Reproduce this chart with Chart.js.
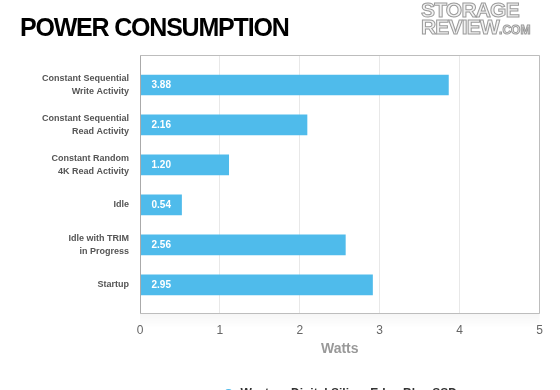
<!DOCTYPE html>
<html><head><meta charset="utf-8">
<script src="https://cdn.jsdelivr.net/npm/chart.js@4/dist/chart.umd.min.js"></script>
<style>
html,body{margin:0;padding:0;background:#fff;overflow:hidden;width:560px;height:390px;}
#wrap{position:relative;width:560px;height:410px;}
#title{position:absolute;left:20px;top:15px;font:bold 25px/25px "Liberation Sans",Arial,sans-serif;letter-spacing:-1.2px;color:#000;white-space:nowrap;}
.logo{position:absolute;left:421px;font-family:"Liberation Sans",Arial,sans-serif;font-weight:bold;color:#f2f2f2;-webkit-text-stroke:1px #9a9a9a;white-space:nowrap;font-size:21px;line-height:20px;letter-spacing:-0.8px;}
canvas{position:absolute;left:0;top:0;}
</style></head>
<body><div id="wrap">
<canvas id="c" width="560" height="410" style="width:560px;height:410px"></canvas>
<div id="title">POWER CONSUMPTION</div>
<div class="logo" style="top:0px">STORAGE</div>
<div class="logo" style="top:17px">REVIEW<span style="font-size:12px;letter-spacing:0">.COM</span></div>
</div>
<script>
const FAM = '"Liberation Sans", Arial, Helvetica, sans-serif';
const categories = [
  ["Constant Sequential", "Write Activity"],
  ["Constant Sequential", "Read Activity"],
  ["Constant Random", "4K Read Activity"],
  "Idle",
  ["Idle with TRIM", "in Progress"],
  "Startup"
];
const seriesName = "Western Digital SiliconEdge Blue SSD";
const barValues = [3.86, 2.09, 1.11, 0.52, 2.57, 2.91];
const valueLabels = ["3.88", "2.16", "1.20", "0.54", "2.56", "2.95"];
const xTicks = [0, 1, 2, 3, 4, 5];
const axisTitle = "Watts";

const boxPlugin = {
  id: 'box',
  beforeDraw(chart) {
    const {ctx, chartArea: a} = chart;
    ctx.save();
    const g = ctx.createLinearGradient(0, a.bottom, 0, a.bottom + 14);
    g.addColorStop(0, 'rgba(0,0,0,0.035)');
    g.addColorStop(1, 'rgba(0,0,0,0)');
    ctx.fillStyle = g;
    ctx.fillRect(a.left, a.bottom, a.right - a.left, 14);
    ctx.restore();
  },
  afterDatasetsDraw(chart) {
    const {ctx, chartArea: a} = chart;
    ctx.save();
    ctx.lineWidth = 1;
    ctx.strokeStyle = '#bdbdbd';
    const l = Math.round(a.left) + 0.5, r = Math.round(a.right) - 0.5, t = Math.round(a.top) + 0.5, b = Math.round(a.bottom) - 0.5;
    ctx.beginPath();
    ctx.moveTo(l, t); ctx.lineTo(r, t); ctx.lineTo(r, b); ctx.lineTo(l, b);
    ctx.stroke();
    ctx.strokeStyle = '#aaaaaa';
    ctx.beginPath(); ctx.moveTo(l, t); ctx.lineTo(l, b); ctx.stroke();
    ctx.restore();
  }
};
const valuePlugin = {
  id: 'vals',
  afterDatasetsDraw(chart) {
    const ctx = chart.ctx;
    const meta = chart.getDatasetMeta(0);
    ctx.save();
    ctx.fillStyle = '#ffffff';
    ctx.font = 'bold 10px ' + FAM;
    ctx.textBaseline = 'middle';
    ctx.textAlign = 'left';
    meta.data.forEach((bar, i) => {
      ctx.fillText(valueLabels[i], bar.base + 11, bar.y + 0.5);
    });
    ctx.restore();
  }
};

new Chart(document.getElementById('c'), {
  type: 'bar',
  data: {
    datasets: [{
      label: seriesName,
      data: barValues.map((v, i) => ({x: v, y: i})),
      backgroundColor: '#4FBBEB',
      borderWidth: 0,
      barThickness: 20
    }]
  },
  options: {
    indexAxis: 'y',
    responsive: false,
    animation: false,
    layout: {padding: {top: 55, right: 20.5, left: 0, bottom: 0}},
    scales: {
      x: {
        type: 'linear', min: xTicks[0], max: xTicks[xTicks.length - 1], position: 'bottom',
        afterBuildTicks: s => { s.ticks = xTicks.map(v => ({value: v})); },
        ticks: {color: '#666', font: {size: 12, family: FAM}, padding: 9},
        grid: {color: '#e8e8e8', drawTicks: false},
        border: {display: false},
        title: {display: true, text: axisTitle, color: '#999', font: {size: 14, weight: 'bold', family: FAM}, padding: {top: 0, bottom: 10}},
        afterFit: s => { s.height = 54; }
      },
      y: {
        type: 'linear', reverse: true, min: -0.75, max: 5.73, offset: false,
        afterBuildTicks: s => { s.ticks = categories.map((_, i) => ({value: i})); },
        ticks: {callback: v => categories[v], color: '#555', font: {size: 9, weight: 'bold', family: FAM, lineHeight: 1.45}, padding: 11},
        grid: {display: false, drawTicks: false},
        border: {display: false},
        afterFit: s => { s.width = 140; }
      }
    },
    plugins: {
      legend: {
        position: 'bottom', fullSize: false,
        labels: {usePointStyle: true, pointStyle: 'circle', boxWidth: 14, boxHeight: 7, color: '#333', font: {size: 12, weight: 'bold', family: FAM}, padding: 20}
      },
      tooltip: {enabled: false}
    }
  },
  plugins: [boxPlugin, valuePlugin]
});
</script>
</body></html>
